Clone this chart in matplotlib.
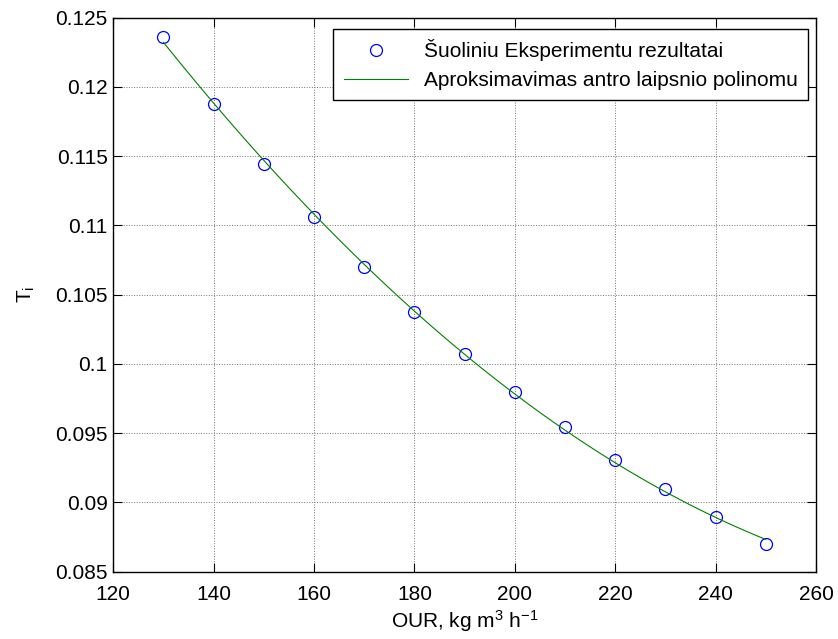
# T_i versus OUR with second order polynomial fit
import matplotlib
matplotlib.use('Agg')
import matplotlib.pyplot as plt
import numpy as np

plt.rcParams['font.family'] = ['Liberation Sans', 'DejaVu Sans']
plt.rcParams['mathtext.fontset'] = 'custom'
plt.rcParams['mathtext.rm'] = 'Liberation Sans'
plt.rcParams['mathtext.it'] = 'Liberation Sans:italic'

# data
our = [130, 140, 150, 160, 170, 180, 190, 200, 210, 220, 230, 240, 250]
ti = [0.12357, 0.11878, 0.11444, 0.11060, 0.10701, 0.10371, 0.10068,
      0.09796, 0.09541, 0.09305, 0.09096, 0.08896, 0.08699]
xticks = [120, 140, 160, 180, 200, 220, 240, 260]
yticks = [0.085, 0.09, 0.095, 0.1, 0.105, 0.11, 0.115, 0.12, 0.125]
ytick_labels = ['0.085', '0.09', '0.095', '0.1', '0.105', '0.11', '0.115', '0.12', '0.125']
legend_labels = ['Šuoliniu Eksperimentu rezultatai',
                 'Aproksimavimas antro laipsnio polinomu']

# second degree polynomial approximation of the points
coef = np.polyfit(our, ti, 2)
x_fit = np.linspace(our[0], our[-1], 121)
y_fit = np.polyval(coef, x_fit)

fig = plt.figure(figsize=(8.38, 6.39), dpi=100)
ax = fig.add_axes([0.1352, 0.1053, 0.9737 - 0.1352, 0.9726 - 0.1053])

ax.plot(our, ti, 'o', markersize=8.6, markerfacecolor='none',
        markeredgecolor='#0000ff', markeredgewidth=0.9, label=legend_labels[0])
ax.plot(x_fit, y_fit, '-', color='#008000', linewidth=0.8, label=legend_labels[1])

ax.set_xlim(120, 260)
ax.set_ylim(0.085, 0.125)
ax.set_xticks(xticks)
ax.set_yticks(yticks)
ax.set_yticklabels(ytick_labels)

ax.grid(True, linestyle=':', color='0.45', linewidth=0.7)
ax.tick_params(direction='in', top=True, right=True, length=6.5, width=0.8,
               labelsize=15)
ax.tick_params(axis='x', pad=9.5)
ax.tick_params(axis='y', pad=4)
for s in ax.spines.values():
    s.set_linewidth(1.0)

ax.set_xlabel('OUR, kg m$^{3}$ h$^{\\mathrm{-1}}$', fontsize=15, labelpad=3)
ax.set_ylabel('T$_{\\mathrm{i}}$', fontsize=15, labelpad=13)

leg = ax.legend(loc='upper right', bbox_to_anchor=(808 / 838, 1 - 29 / 639),
                bbox_transform=fig.transFigure, borderaxespad=0,
                fancybox=False, framealpha=1, edgecolor='black',
                fontsize=15, handlelength=3.1, borderpad=0.5,
                labelspacing=0.45, handletextpad=0.75)
leg.get_frame().set_linewidth(1.0)

fig.savefig('out.png', dpi=100)
